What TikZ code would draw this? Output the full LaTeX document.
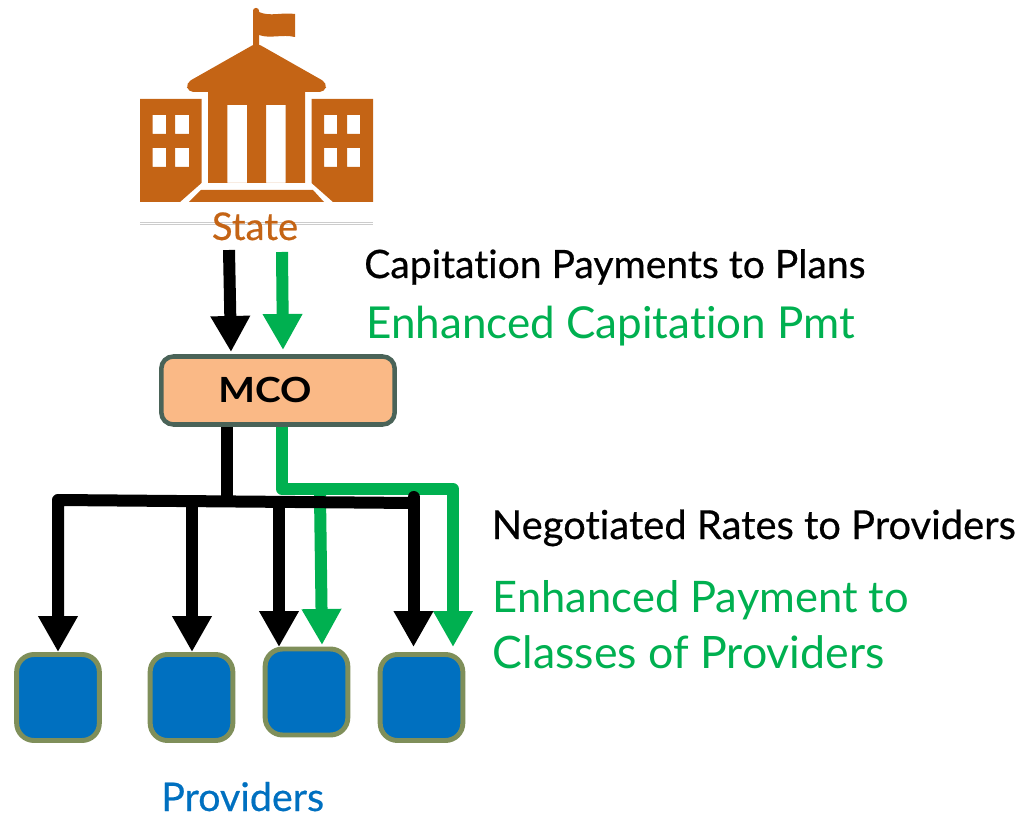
\documentclass[tikz,border=0pt]{standalone}
\usepackage{fontspec}
\setmainfont{Lato}[Ligatures=NoCommon]
\usetikzlibrary{arrows.meta}
\definecolor{statec}{HTML}{C46415}
\definecolor{greenc}{HTML}{00B050}
\definecolor{bluec}{HTML}{0070C0}
\definecolor{olivec}{HTML}{7F8F5A}
\definecolor{mcofill}{HTML}{FAB986}
\definecolor{mcoline}{HTML}{4A6358}
\newcommand{\heavier}{\addfontfeature{FakeBold=0.5}}
\tikzset{
  x=0.75pt,y=-0.75pt,
  provider/.style={draw=olivec,fill=bluec,line width=3.7pt,rounded corners=13pt,minimum width=62pt,minimum height=64.5pt,inner sep=0pt},
  mcobox/.style={draw=mcoline,fill=mcofill,line width=3.4pt,rounded corners=9pt,minimum width=175pt,minimum height=51pt,inner sep=0pt,font=\bfseries\fontsize{26pt}{28pt}\selectfont},
  blackflow/.style={draw=black,line width=9pt,line join=round,-{Triangle[width=28pt,length=27pt]}},
  blackline/.style={draw=black,line width=9pt,line join=round},
  greenflow/.style={draw=greenc,line width=9pt,line join=round,-{Triangle[width=28pt,length=27pt]}},
  lab/.style={anchor=base west,inner sep=0pt},
}
\begin{document}
\begin{tikzpicture}
\useasboundingbox (0,0) rectangle (1025,816);
% building
\fill[statec,rounded corners=2pt] (253,27) -- (253,8) -- (259,8) -- (259,50) -- (253,50) -- cycle;
\fill[statec] (259,12) .. controls (270,17) and (282,12) .. (295,14) -- (295,37) .. controls (282,34) and (270,39) .. (259,35) -- cycle;
\fill[statec,rounded corners=4pt] (256.5,43) -- (327,83) -- (325,92) -- (188,92) -- (186,83) -- cycle;
\fill[statec,even odd rule] (208,88) rectangle (305,183) (227.3,105) rectangle (247,183) (266,105) rectangle (285.7,183);
\fill[statec,even odd rule] (140,99) -- (201.5,99) -- (201.5,183) -- (180,202) -- (140,202) -- cycle
  (152.5,115) rectangle (166,134) (175,115) rectangle (189,134) (152.5,148) rectangle (166,167) (175,148) rectangle (189,167);
\fill[statec,even odd rule] (373,99) -- (311.5,99) -- (311.5,183) -- (333,202) -- (373,202) -- cycle
  (324,115) rectangle (337,134) (347,115) rectangle (360,134) (324,148) rectangle (337,167) (347,148) rectangle (360,167);
\fill[statec] (201,190) -- (313,190) -- (324,202) -- (189,202) -- cycle;
\draw[black!20,line width=0.7pt] (140,222) -- (373,222) (140,224.5) -- (373,224.5);
\node[lab,anchor=base,text=statec,font=\fontsize{28.7pt}{30pt}\selectfont\heavier] (state) at (255,240) {State};
% nodes
\node[mcobox] (mco) at (278,390.5) {\raisebox{1.5pt}{\hspace*{-19.5pt}\scalebox{1.12}[1]{MCO}}};
\node[provider] (p1) at (58,697.5) {};
\node[provider] (p2) at (191.5,697.5) {};
\node[provider] (p3) at (306.5,692) {};
\node[provider] (p4) at (421.5,697.5) {};
% named points
\coordinate (sb) at (229,250);
\coordinate (sg) at (282,252);
\coordinate (gc) at (282,489);
\coordinate (gr) at (453,489);
\coordinate (gb) at (320,495);
\coordinate (tt) at (227,500);
\coordinate (tl) at (58,500);
\coordinate (tr) at (413.5,503);
\coordinate (t2) at (192,500);
\coordinate (t3) at (279,500);
% green flows
\draw[greenflow] (sg) -- (283,350);
\draw[greenflow] (gc |- mco.south) -- (gc) -- (gr) -- (453,647);
\draw[greenflow] (gb) -- (322,645);
% black flows
\draw[blackflow] (sb) -- (231,352);
\draw[blackline] (tt |- mco.south) -- (tt);
\draw[blackflow] (tr) -- (tl) -- (p1.north);
\draw[blackflow] (t2) -- (p2.north -| t2);
\draw[blackflow] (t3) -- (279,647);
\draw[blackflow,line cap=round] (413.5,497) -- (413.5,647);
% labels
\node[lab,font=\fontsize{29.3pt}{31pt}\selectfont\heavier] (l1) at (364,278) {Capitation Payments to Plans};
\node[lab,text=greenc,font=\fontsize{33pt}{35pt}\selectfont] (l2) at (366,339) {Enhanced Capitation Pmt};
\node[lab,font=\fontsize{29.95pt}{31pt}\selectfont\heavier] (l3) at (491.5,539) {Negotiated Rates to Providers};
\node[lab,text=greenc,font=\fontsize{32.6pt}{34pt}\selectfont] (l4) at (492.5,612) {Enhanced Payment to};
\node[lab,text=greenc,font=\fontsize{33.5pt}{35pt}\selectfont] (l5) at (492.5,668) {Classes of Providers};
\node[lab,text=bluec,font=\fontsize{29.6pt}{31pt}\selectfont\heavier] (l6) at (161,811) {Providers};
\end{tikzpicture}
\end{document}
